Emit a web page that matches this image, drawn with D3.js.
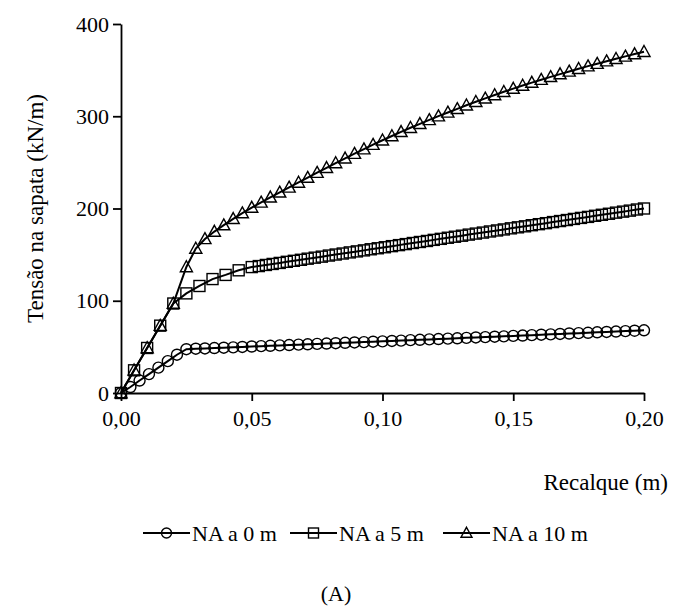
<!DOCTYPE html>
<html><head><meta charset="utf-8">
<script src="https://cdn.jsdelivr.net/npm/d3@7"></script>
<style>
html,body{margin:0;padding:0;background:#fff;}
svg{display:block;}
text{font-family:"Liberation Serif","Times New Roman",Times,serif;fill:#000;}
</style></head>
<body>
<svg id="chart" width="673" height="608"></svg>
<script>
// ---- data ----
const xCircle = [0,0.0036,0.0071,0.0107,0.0143,0.0179,0.0214,0.025,0.0286,0.0321,0.0357,0.0393,0.0429,0.0464,0.05,0.0536,0.0571,0.0607,0.0643,0.0679,0.0714,0.075,0.0786,0.0821,0.0857,0.0893,0.0929,0.0964,0.1,0.1036,0.1071,0.1107,0.1143,0.1179,0.1214,0.125,0.1286,0.1321,0.1357,0.1393,0.1429,0.1464,0.15,0.1536,0.1571,0.1607,0.1643,0.1679,0.1714,0.175,0.1786,0.1821,0.1857,0.1893,0.1929,0.1964,0.2];
const yNA0 = [0,6.5,13.5,20.5,27.5,34.5,41.5,47.5,48.0,48.3,48.7,49.1,49.5,49.9,50.4,50.8,51.2,51.6,52.0,52.4,52.8,53.2,53.6,54.0,54.4,54.8,55.2,55.6,56.0,56.4,56.8,57.3,57.7,58.1,58.5,58.9,59.3,59.8,60.2,60.6,61.0,61.4,61.9,62.3,62.7,63.2,63.6,64.0,64.5,64.9,65.3,65.8,66.2,66.6,67.1,67.5,68.0];

const xSquare = [0,0.005,0.01,0.015,0.02,0.025,0.03,0.035,0.04,0.045,0.05,0.0527,0.0554,0.058,0.0607,0.0634,0.0661,0.0688,0.0714,0.0741,0.0768,0.0795,0.0821,0.0848,0.0875,0.0902,0.0929,0.0955,0.0982,0.1009,0.1036,0.1063,0.1089,0.1116,0.1143,0.117,0.1196,0.1223,0.125,0.1277,0.1304,0.133,0.1357,0.1384,0.1411,0.1438,0.1464,0.1491,0.1518,0.1545,0.1571,0.1598,0.1625,0.1652,0.1679,0.1705,0.1732,0.1759,0.1786,0.1813,0.1839,0.1866,0.1893,0.192,0.1946,0.1973,0.2];
const yNA5 = [0,24.6,48.8,73,97,108,116,123.5,128,133,136.5,137.6,138.8,139.9,141.0,142.2,143.3,144.4,145.6,146.7,147.8,149.0,150.1,151.2,152.4,153.5,154.6,155.8,156.9,158.0,159.2,160.3,161.4,162.6,163.7,164.8,166.0,167.1,168.3,169.4,170.5,171.7,172.8,173.9,175.1,176.2,177.3,178.5,179.6,180.7,181.9,183.0,184.1,185.3,186.4,187.5,188.7,189.8,190.9,192.1,193.2,194.3,195.5,196.6,197.7,198.9,200.0];

const xTriangle = [0,0.005,0.01,0.015,0.02,0.025,0.0286,0.0321,0.0357,0.0393,0.0429,0.0464,0.05,0.0536,0.0571,0.0607,0.0643,0.0679,0.0714,0.075,0.0786,0.0821,0.0857,0.0893,0.0929,0.0964,0.1,0.1036,0.1071,0.1107,0.1143,0.1179,0.1214,0.125,0.1286,0.1321,0.1357,0.1393,0.1429,0.1464,0.15,0.1536,0.1571,0.1607,0.1643,0.1679,0.1714,0.175,0.1786,0.1821,0.1857,0.1893,0.1929,0.1964,0.2];
const yNA10 = [0,24.6,48.8,73,97,136.6,156.6,167,175,182,188.8,195,201,206.6,212.1,217.5,222.9,228.2,233.5,238.8,244.1,249.3,254.4,259.4,264.3,269.2,274.0,278.6,283.1,287.5,291.8,296.0,300.1,304.1,308.0,311.9,315.7,319.4,323.0,326.5,330.0,333.3,336.5,339.6,342.7,345.7,348.6,351.5,354.3,357.0,359.7,362.3,364.9,367.4,369.9];

const seriesNames = ["NA a 0 m","NA a 5 m","NA a 10 m"];
const seriesMarkers = ["circle","square","triangle"];
const xTickValues = [0,0.05,0.1,0.15,0.2];
const xTickLabels = ["0,00","0,05","0,10","0,15","0,20"];
const yTickValues = [0,100,200,300,400];
const yTickLabels = ["0","100","200","300","400"];
const xTitle = "Recalque (m)";
const yTitle = "Tensão na sapata (kN/m)";
const caption = "(A)";

// ---- layout ----
const svg = d3.select("#chart");
const plotL = 121, plotR = 644, plotT = 24, plotB = 393;
const x = d3.scaleLinear().domain([0,0.2]).range([plotL,plotR]);
const y = d3.scaleLinear().domain([0,400]).range([plotB,plotT]);

const xAxis = d3.axisBottom(x).tickValues(xTickValues)
  .tickFormat((d,i)=>xTickLabels[i]).tickSizeOuter(0).tickSizeInner(8).tickPadding(9);
const yAxis = d3.axisLeft(y).tickValues(yTickValues)
  .tickFormat((d,i)=>yTickLabels[i]).tickSizeOuter(0).tickSizeInner(8).tickPadding(4);

const gx = svg.append("g").attr("transform",`translate(0,${plotB})`).call(xAxis);
const gy = svg.append("g").attr("transform",`translate(${plotL},0)`).call(yAxis);
[gx,gy].forEach(g=>{
  g.attr("font-family",null).attr("font-size",null);
  g.select(".domain").attr("stroke","#000").attr("stroke-width",1.8);
  g.selectAll(".tick line").attr("stroke","#000").attr("stroke-width",1.8);
  g.selectAll(".tick text").attr("font-size",22).attr("fill","#000");
});

// axis titles
svg.append("text").attr("x",668).attr("y",490).attr("text-anchor","end")
  .attr("font-size",23).text(xTitle);
svg.append("text").attr("transform",`translate(43,${(plotT+plotB)/2}) rotate(-90)`)
  .attr("text-anchor","middle").attr("font-size",23).text(yTitle);

// marker drawing
function drawMarker(g, type, cx, cy, s){
  if(type==="circle"){
    g.append("circle").attr("cx",cx).attr("cy",cy).attr("r",s*0.5)
      .attr("fill","none").attr("stroke","#000").attr("stroke-width",1.4);
  } else if(type==="square"){
    g.append("rect").attr("x",cx-s/2).attr("y",cy-s/2).attr("width",s).attr("height",s)
      .attr("fill","none").attr("stroke","#000").attr("stroke-width",1.4);
  } else {
    const h = s*0.95;
    g.append("path").attr("d",`M${cx},${cy-h*0.6}L${cx+s*0.55},${cy+h*0.45}L${cx-s*0.55},${cy+h*0.45}Z`)
      .attr("fill","none").attr("stroke","#000").attr("stroke-width",1.4);
  }
}

const series = [
  {xs:xCircle, ys:yNA0, marker:seriesMarkers[0]},
  {xs:xSquare, ys:yNA5, marker:seriesMarkers[1]},
  {xs:xTriangle, ys:yNA10, marker:seriesMarkers[2]}
];
const line = d3.line().x(d=>x(d[0])).y(d=>y(d[1]));
series.forEach(s=>{
  const pts = d3.zip(s.xs, s.ys);
  const g = svg.append("g");
  g.append("path").datum(pts).attr("d",line).attr("fill","none")
    .attr("stroke","#000").attr("stroke-width",2);
  pts.forEach(p=>drawMarker(g, s.marker, x(p[0]), y(p[1]), 11));
});

// legend
const legendY = 533;
const legendItems = [{x0:143},{x0:290},{x0:443}];
legendItems.forEach((it,i)=>{
  const g = svg.append("g");
  g.append("line").attr("x1",it.x0).attr("x2",it.x0+47).attr("y1",legendY).attr("y2",legendY)
    .attr("stroke","#000").attr("stroke-width",2);
  drawMarker(g, seriesMarkers[i], it.x0+23.5, legendY, 10);
  g.append("text").attr("x",it.x0+49).attr("y",legendY+7.5).attr("font-size",22).text(seriesNames[i]);
});

svg.append("text").attr("x",336).attr("y",601).attr("text-anchor","middle")
  .attr("font-size",22).text(caption);
</script>
</body></html>
